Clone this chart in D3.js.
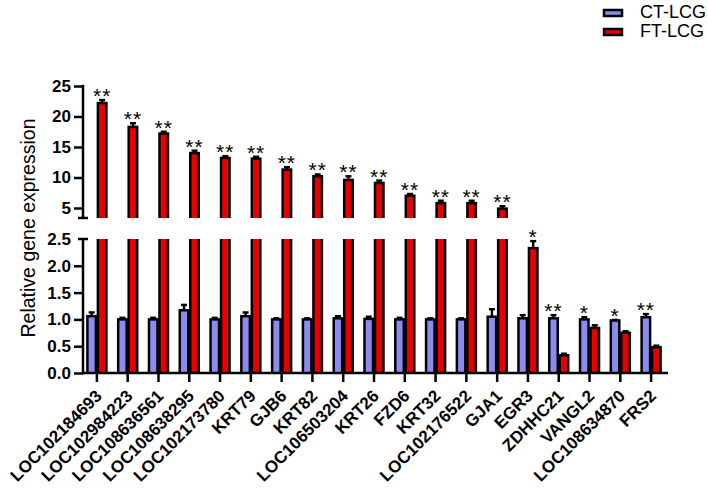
<!DOCTYPE html>
<html>
<head>
<meta charset="utf-8">
<script src="https://cdn.jsdelivr.net/npm/d3@7"></script>
<style>
  body { margin: 0; background: #fff; }
  svg { display: block; font-family: "Liberation Sans", Arial, sans-serif; }
</style>
</head>
<body>
<svg id="chart" width="708" height="492"></svg>
<script>
// genes on the x axis
var categories = ["LOC102184693", "LOC102984223", "LOC108636561", "LOC108638295", "LOC102173780",
    "KRT79", "GJB6", "KRT82", "LOC106503204", "KRT26", "FZD6", "KRT32", "LOC102176522",
    "GJA1", "EGR3", "ZDHHC21", "VANGL2", "LOC108634870", "FRS2"];
var series = ["CT-LCG", "FT-LCG"];
var ctMean = [1.06, 1.00, 1.00, 1.17, 1.00, 1.06, 1.00, 1.00, 1.02, 1.01, 1.00, 1.00, 1.00, 1.05, 1.02, 1.02, 1.00, 0.98, 1.04];
var ctErr  = [0.07, 0.03, 0.03, 0.10, 0.03, 0.07, 0.02, 0.02, 0.04, 0.04, 0.03, 0.02, 0.02, 0.14, 0.06, 0.06, 0.04, 0.01, 0.06];
var ftMean = [22.2, 18.3, 17.2, 14.0, 13.2, 13.1, 11.3, 10.2, 9.6, 9.1, 7.0, 5.8, 5.8, 4.9, 2.33, 0.33, 0.84, 0.75, 0.48];
var ftErr  = [0.5, 0.6, 0.3, 0.4, 0.3, 0.3, 0.4, 0.3, 0.6, 0.4, 0.3, 0.4, 0.4, 0.4, 0.13, 0.03, 0.05, 0.03, 0.03];
var stars  = ["**", "**", "**", "**", "**", "**", "**", "**", "**", "**", "**", "**", "**", "**", "*", "**", "*", "*", "**"];
var lowTicks = [0, 0.5, 1.0, 1.5, 2.0, 2.5];
var highTicks = [5, 10, 15, 20, 25];

var colors = {"CT-LCG": "#8c8cf0", "FT-LCG": "#e60000"};

var svg = d3.select("#chart");

var x = d3.scaleBand().domain(categories).range([81.5, 666.5]);
var yLow = d3.scaleLinear().domain([0, 2.5]).range([373, 239]);     // lower segment
var yHigh = d3.scaleLinear().domain([5, 25]).range([208, 86]);      // upper segment
var axisX = 83;
var lowTop = yLow(2.5), highBottom = 218;

// clip areas for the two segments
var defs = svg.append("defs");
defs.append("clipPath").attr("id", "clipLow")
    .append("rect").attr("x", 0).attr("y", lowTop).attr("width", 708).attr("height", yLow(0) - lowTop);
defs.append("clipPath").attr("id", "clipHigh")
    .append("rect").attr("x", 0).attr("y", 0).attr("width", 708).attr("height", highBottom);

// one row per bar
var bars = [];
categories.forEach(function(c, i) {
    bars.push({cat: c, s: "CT-LCG", v: ctMean[i], e: ctErr[i], side: -1});
    bars.push({cat: c, s: "FT-LCG", v: ftMean[i], e: ftErr[i], side: 1});
});
var barW = 8.5;
function barX(d) {
    var c = x(d.cat) + x.bandwidth() / 2;
    return d.side < 0 ? c - 1 - barW : c + 1;
}

function drawBars(g, yScale, clipId) {
    var layer = g.append("g").attr("clip-path", "url(#" + clipId + ")");
    layer.selectAll("rect")
        .data(bars)
        .enter()
        .append("rect")
        .attr("x", barX)
        .attr("y", function(d) { return yScale(d.v); })
        .attr("width", barW)
        .attr("height", function(d) { return yLow(0) - yScale(d.v) + 20; })
        .attr("fill", function(d) { return colors[d.s]; })
        .attr("stroke", "#000")
        .attr("stroke-width", 2.5);
    // error bars, upper side only
    var eb = layer.selectAll("g.err")
        .data(bars)
        .enter()
        .append("g");
    eb.append("line")
        .attr("x1", function(d) { return barX(d) + barW / 2; })
        .attr("x2", function(d) { return barX(d) + barW / 2; })
        .attr("y1", function(d) { return yScale(d.v); })
        .attr("y2", function(d) { return yScale(d.v + d.e); })
        .attr("stroke", "#000").attr("stroke-width", 2.4);
    eb.append("line")
        .attr("x1", function(d) { return barX(d) + barW / 2 - 3; })
        .attr("x2", function(d) { return barX(d) + barW / 2 + 3; })
        .attr("y1", function(d) { return yScale(d.v + d.e); })
        .attr("y2", function(d) { return yScale(d.v + d.e); })
        .attr("stroke", "#000").attr("stroke-width", 2.4);
}
var plot = svg.append("g");
// lower segment: values above 2.5 run past the top and get clipped
drawBars(plot, function(v) { return yLow(Math.min(v, 3)); }, "clipLow");
drawBars(plot, function(v) { return yHigh(Math.max(v, 3)); }, "clipHigh");

// significance marks above the taller bar of each pair
svg.append("g").selectAll("text")
    .data(categories)
    .enter()
    .append("text")
    .attr("x", function(c, i) {
        var cx = x(c) + x.bandwidth() / 2;
        return ftMean[i] > ctMean[i] ? cx + 1 + barW / 2 : cx - 1 - barW / 2;
    })
    .attr("y", function(c, i) {
        var top = ftMean[i] > ctMean[i] ? ftMean[i] + ftErr[i] : ctMean[i] + ctErr[i];
        return (top > 2.5 ? yHigh(top) : yLow(top)) + 3;
    })
    .attr("text-anchor", "middle")
    .style("font-size", "21px")
    .style("letter-spacing", "1px")
    .attr("fill", "#000")
    .text(function(c, i) { return stars[i]; });

// y axes
function styleAxis(g) {
    g.select(".domain").remove();
    g.selectAll(".tick line").attr("stroke", "#000").attr("stroke-width", 2.5);
    g.selectAll(".tick text")
        .style("font-size", "17px")
        .style("font-weight", "700")
        .style("font-family", "'Liberation Sans', Arial, sans-serif")
        .attr("fill", "#000");
}
var gLow = svg.append("g").attr("transform", "translate(" + axisX + ",0)")
    .call(d3.axisLeft(yLow).tickValues(lowTicks).tickFormat(d3.format(".1f")).tickSize(9).tickPadding(3))
    .call(styleAxis);
gLow.selectAll(".tick").filter(function(d) { return d === 2.5; }).select("line").remove();
var gHigh = svg.append("g").attr("transform", "translate(" + axisX + ",0)")
    .call(d3.axisLeft(yHigh).tickValues(highTicks).tickSize(9).tickPadding(3))
    .call(styleAxis);

var axisLines = svg.append("g").attr("stroke", "#000").attr("stroke-width", 2.5);
axisLines.append("line").attr("x1", axisX).attr("x2", axisX).attr("y1", lowTop).attr("y2", yLow(0) + 1.2);
axisLines.append("line").attr("x1", axisX).attr("x2", axisX).attr("y1", yHigh(25) - 1.2).attr("y2", highBottom);
axisLines.append("line").attr("x1", axisX - 5).attr("x2", axisX + 5).attr("y1", lowTop).attr("y2", lowTop);
axisLines.append("line").attr("x1", axisX - 5).attr("x2", axisX + 5).attr("y1", highBottom).attr("y2", highBottom);
axisLines.append("line").attr("x1", axisX).attr("x2", 668).attr("y1", yLow(0)).attr("y2", yLow(0));

// x axis ticks and rotated gene names
var gx = svg.append("g");
gx.selectAll("line")
    .data(categories)
    .enter()
    .append("line")
    .attr("x1", function(c) { return x(c) + x.bandwidth() / 2; })
    .attr("x2", function(c) { return x(c) + x.bandwidth() / 2; })
    .attr("y1", yLow(0))
    .attr("y2", yLow(0) + 9)
    .attr("stroke", "#000")
    .attr("stroke-width", 2.5);
gx.selectAll("text")
    .data(categories)
    .enter()
    .append("text")
    .attr("transform", function(c) {
        return "translate(" + (x(c) + x.bandwidth() / 2 + 6) + "," + 397 + ") rotate(-45)";
    })
    .attr("text-anchor", "end")
    .style("font-size", "17px")
    .style("font-weight", "700")
    .attr("fill", "#000")
    .text(function(c) { return c; });

// y title
svg.append("text")
    .attr("transform", "translate(35,228) rotate(-90)")
    .attr("text-anchor", "middle")
    .style("font-size", "19.5px")
    .attr("fill", "#000")
    .text("Relative gene expression");

// legend
var legend = svg.append("g").selectAll("g")
    .data(series)
    .enter()
    .append("g")
    .attr("transform", function(d, i) { return "translate(603," + (10 + i * 19) + ")"; });
legend.append("rect")
    .attr("x", 1).attr("y", 0).attr("width", 18).attr("height", 6)
    .attr("fill", function(d) { return colors[d]; })
    .attr("stroke", "#000").attr("stroke-width", 2.5);
legend.append("text")
    .attr("x", 37).attr("y", 7.5)
    .style("font-size", "18px")
    .attr("fill", "#000")
    .text(function(d) { return d; });
</script>
</body>
</html>
